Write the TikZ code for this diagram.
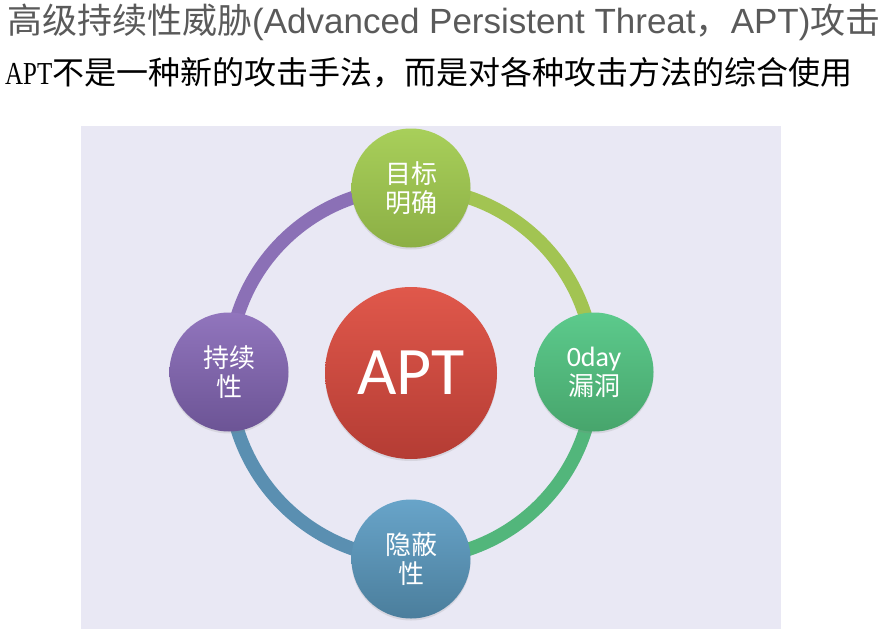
\documentclass[tikz,border=0pt]{standalone}
\usepackage{fontspec}
\setmainfont{Liberation Sans}
\newfontfamily\cjk{Noto Sans CJK SC}
\newfontfamily\calf{Carlito}
\newfontfamily\serf{Liberation Serif}
\usetikzlibrary{shadows}
\pgfdeclarelayer{bg}
\pgfsetlayers{bg,main}
\definecolor{titlegray}{HTML}{5A5A5A}
\definecolor{panel}{HTML}{E9E8F4}
\definecolor{arcpurple}{HTML}{8B70B6}
\definecolor{arcyellow}{HTML}{A2C452}
\definecolor{arcgreen}{HTML}{52B67B}
\definecolor{arcblue}{HTML}{5A8FB1}
\definecolor{goaltop}{RGB}{168,207,90}
\definecolor{goalbot}{RGB}{140,175,69}
\definecolor{zerotop}{RGB}{92,202,140}
\definecolor{zerobot}{RGB}{71,165,108}
\definecolor{hidetop}{RGB}{104,164,201}
\definecolor{hidebot}{RGB}{75,126,156}
\definecolor{perstop}{RGB}{145,117,189}
\definecolor{persbot}{RGB}{108,84,149}
\definecolor{apttop}{RGB}{224,88,75}
\definecolor{aptbot}{RGB}{180,60,52}
\tikzset{
  smallc/.style={circle, minimum size=119pt, inner sep=0pt, text=white,
    font=\cjk\fontsize{26}{29}\selectfont, align=center,
    drop shadow={opacity=0.18, shadow xshift=0pt, shadow yshift=-2pt}},
  ring/.style={line width=13.5pt},
}
\begin{document}
\begin{tikzpicture}[x=1pt,y=-1pt]
\useasboundingbox (0,0) rectangle (894,629);

\node[anchor=west, inner sep=0pt, text=titlegray, font=\fontsize{35}{35}\selectfont] (title) at (7,22)
  {{\cjk 高级持续性威胁}(Advanced Persistent Threat{\cjk ，}APT){\cjk 攻击}};
\node[anchor=west, inner sep=0pt, text=black, font=\cjk\fontsize{32}{32}\selectfont] (sub) at (5,73)
  {{\serf\scalebox{0.78}[1]{APT}}不是一种新的攻击手法，而是对各种攻击方法的综合使用};

\node[smallc, top color=goaltop, bottom color=goalbot] (goal) at (411,188) {目标\\明确};
\node[smallc, top color=zerotop, bottom color=zerobot] (zero) at (594,372) {{\calf\fontsize{28}{29}\selectfont 0day}\\漏洞};
\node[smallc, top color=hidetop, bottom color=hidebot] (hide) at (411,559) {隐蔽\\性};
\node[smallc, top color=perstop, bottom color=persbot] (persist) at (229,372) {持续\\性};
\node[circle, minimum size=172pt, inner sep=0pt, text=white, font=\calf\fontsize{68}{68}\selectfont,
  top color=apttop, bottom color=aptbot,
  drop shadow={opacity=0.18, shadow xshift=0pt, shadow yshift=-2pt}] (apt) at (411,373) {APT};

\begin{pgfonlayer}{bg}
\fill[white] (0,0) rectangle (894,629);
\fill[panel] (81,126) rectangle (781,629);
\draw[ring, arcpurple] (persist.center) to[bend left=45] (goal.center);
\draw[ring, arcyellow] (goal.center) to[bend left=45] (zero.center);
\draw[ring, arcgreen] (zero.center) to[bend left=45] (hide.center);
\draw[ring, arcblue] (hide.center) to[bend left=45] (persist.center);
\end{pgfonlayer}
\end{tikzpicture}
\end{document}
